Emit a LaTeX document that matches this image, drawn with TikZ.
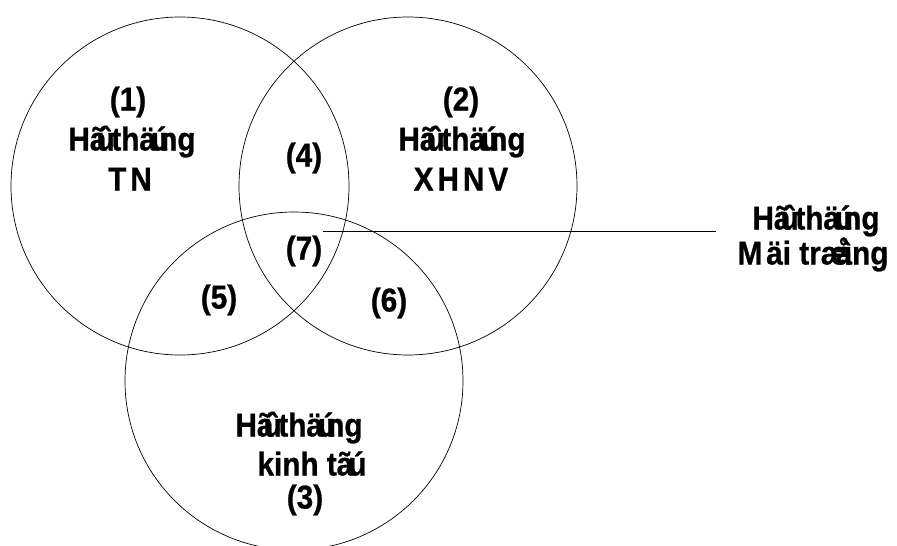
\documentclass[tikz,border=0pt]{standalone}
\usepackage{fontspec}
\setmainfont{Liberation Sans}[FakeStretch=0.9, BoldFeatures={FakeBold=0.8}]
% region captions, set with overlapping accent glyphs
\newcommand\hthong{Hã\kern-.3emû\kern-.1em thä\kern-.15emú\kern-.3em ng}
\newcommand\mtruong{M\kern4pt äi træ\kern-.35emå\kern-.25emìng}
\newcommand\ktu{kinh tã\kern-.15emú}
\begin{document}
\begin{tikzpicture}[x=1pt,y=-1pt,
  ring/.style={draw, line width=0.7pt},
  lbl/.style={font=\fontsize{33}{33}\selectfont\bfseries, inner sep=0pt,
              text height=23.6pt, text depth=6.6pt}]
\useasboundingbox[fill=white] (0,0) rectangle (897,546);

% the three sets
\node[ring, circle, minimum size=338pt, inner sep=0pt] (c1) at (180,186) {};
\node[ring, circle, minimum size=338pt, inner sep=0pt] (c2) at (408,186) {};
\node[ring, circle, minimum size=338pt, inner sep=0pt] (c3) at (294,381) {};

% set 1
\node[lbl] (n1)  at (128,102) {(1)};
\node[lbl] (h1)  at (132,142) {\hthong};
\node[lbl] (tn)  at (130,182) {T\kern4pt N};
% set 2
\node[lbl] (n2)  at (461,102) {(2)};
\node[lbl] (h2)  at (462,142) {\hthong};
\node[lbl] (xh)  at (461,182) {X\kern4pt H\kern4pt N\kern4pt V};
% set 3
\node[lbl] (h3)  at (299,428) {\hthong};
\node[lbl] (kt)  at (312,467) {\ktu};
\node[lbl] (n3)  at (305,500) {(3)};
% intersections
\node[lbl] (n4)  at (304,158) {(4)};
\node[lbl] (n7)  at (304,251) {(7)};
\node[lbl] (n5)  at (219,300) {(5)};
\node[lbl] (n6)  at (389,303) {(6)};

% callout for the common part
\node[lbl] (hm)  at (816,221) {\hthong};
\node[lbl] (mt)  at (813,256) {\mtruong};
\coordinate (tip) at (323,231);
\coordinate (tail) at (716,231);
\draw[line width=0.7pt] (tip) -- (tail);
\end{tikzpicture}
\end{document}
